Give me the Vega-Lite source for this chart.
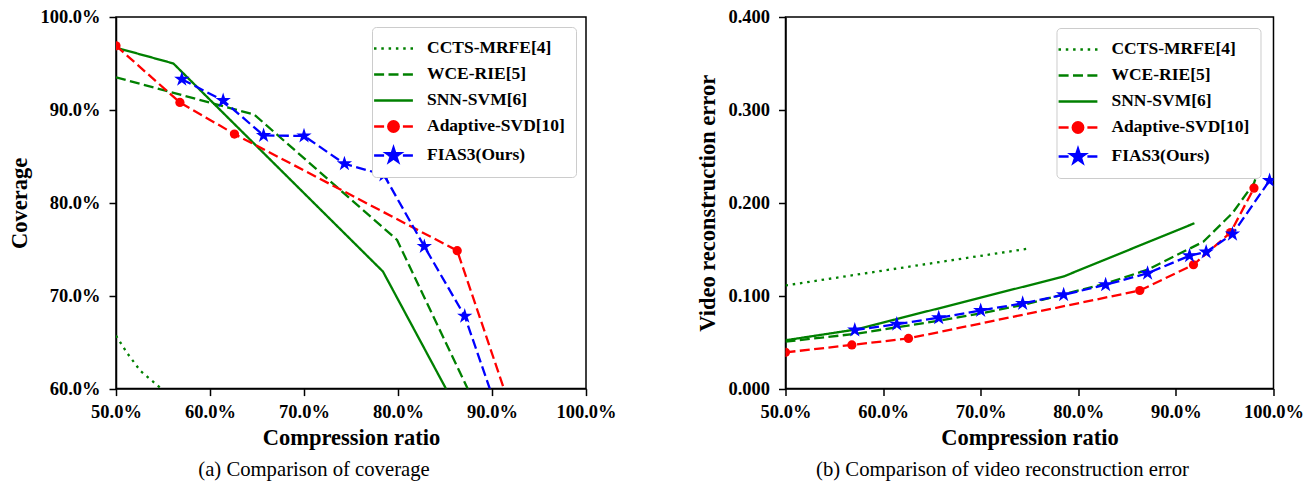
{
  "$schema": "https://vega.github.io/schema/vega-lite/v6.json",
  "padding": {"left": 8, "top": 7, "right": 0, "bottom": 0},
  "background": "white",
  "datasets": {
    "cov": [
      {"m": "CCTS-MRFE[4]", "x": 50, "y": 65.7},
      {"m": "CCTS-MRFE[4]", "x": 51.2, "y": 63.8},
      {"m": "CCTS-MRFE[4]", "x": 52.6, "y": 61.9},
      {"m": "CCTS-MRFE[4]", "x": 54.7, "y": 60.1},
      {"m": "CCTS-MRFE[4]", "x": 57, "y": 58.5},
      {"m": "WCE-RIE[5]", "x": 50, "y": 93.5},
      {"m": "WCE-RIE[5]", "x": 64.7, "y": 89.5},
      {"m": "WCE-RIE[5]", "x": 79.9, "y": 76.0},
      {"m": "WCE-RIE[5]", "x": 92.8, "y": 48.5},
      {"m": "SNN-SVM[6]", "x": 50, "y": 96.7},
      {"m": "SNN-SVM[6]", "x": 56.1, "y": 95.0},
      {"m": "SNN-SVM[6]", "x": 78.4, "y": 72.6},
      {"m": "SNN-SVM[6]", "x": 91.9, "y": 47.2},
      {"m": "Adaptive-SVD[10]", "x": 50, "y": 96.9},
      {"m": "Adaptive-SVD[10]", "x": 56.8, "y": 90.8},
      {"m": "Adaptive-SVD[10]", "x": 62.6, "y": 87.4},
      {"m": "Adaptive-SVD[10]", "x": 86.3, "y": 74.85},
      {"m": "Adaptive-SVD[10]", "x": 91.8, "y": 58.4},
      {"m": "FIAS3(Ours)", "x": 57.0, "y": 93.3},
      {"m": "FIAS3(Ours)", "x": 61.4, "y": 91.0},
      {"m": "FIAS3(Ours)", "x": 65.7, "y": 87.25},
      {"m": "FIAS3(Ours)", "x": 70.0, "y": 87.2},
      {"m": "FIAS3(Ours)", "x": 74.3, "y": 84.2},
      {"m": "FIAS3(Ours)", "x": 78.5, "y": 83.0},
      {"m": "FIAS3(Ours)", "x": 82.8, "y": 75.3},
      {"m": "FIAS3(Ours)", "x": 87.1, "y": 67.8},
      {"m": "FIAS3(Ours)", "x": 91.4, "y": 55.2}
    ],
    "err": [
      {"m": "CCTS-MRFE[4]", "x": 50, "y": 0.111},
      {"m": "CCTS-MRFE[4]", "x": 62.5, "y": 0.131},
      {"m": "CCTS-MRFE[4]", "x": 75.1, "y": 0.151},
      {"m": "WCE-RIE[5]", "x": 50, "y": 0.0505},
      {"m": "WCE-RIE[5]", "x": 57.2, "y": 0.059},
      {"m": "WCE-RIE[5]", "x": 61.4, "y": 0.066},
      {"m": "WCE-RIE[5]", "x": 65.7, "y": 0.073},
      {"m": "WCE-RIE[5]", "x": 70.0, "y": 0.081},
      {"m": "WCE-RIE[5]", "x": 74.3, "y": 0.090},
      {"m": "WCE-RIE[5]", "x": 78.5, "y": 0.1015},
      {"m": "WCE-RIE[5]", "x": 82.8, "y": 0.113},
      {"m": "WCE-RIE[5]", "x": 87.1, "y": 0.128},
      {"m": "WCE-RIE[5]", "x": 92.8, "y": 0.158},
      {"m": "WCE-RIE[5]", "x": 95.8, "y": 0.189},
      {"m": "WCE-RIE[5]", "x": 98.0, "y": 0.221},
      {"m": "WCE-RIE[5]", "x": 98.7, "y": 0.243},
      {"m": "SNN-SVM[6]", "x": 50, "y": 0.052},
      {"m": "SNN-SVM[6]", "x": 57.2, "y": 0.0636},
      {"m": "SNN-SVM[6]", "x": 78.5, "y": 0.1207},
      {"m": "SNN-SVM[6]", "x": 91.9, "y": 0.178},
      {"m": "Adaptive-SVD[10]", "x": 50, "y": 0.039},
      {"m": "Adaptive-SVD[10]", "x": 56.8, "y": 0.047},
      {"m": "Adaptive-SVD[10]", "x": 62.6, "y": 0.054},
      {"m": "Adaptive-SVD[10]", "x": 86.3, "y": 0.1056},
      {"m": "Adaptive-SVD[10]", "x": 91.8, "y": 0.1333},
      {"m": "Adaptive-SVD[10]", "x": 95.6, "y": 0.168},
      {"m": "Adaptive-SVD[10]", "x": 98.0, "y": 0.2158},
      {"m": "FIAS3(Ours)", "x": 57.1, "y": 0.063},
      {"m": "FIAS3(Ours)", "x": 61.4, "y": 0.0694},
      {"m": "FIAS3(Ours)", "x": 65.7, "y": 0.0762},
      {"m": "FIAS3(Ours)", "x": 70.0, "y": 0.0841},
      {"m": "FIAS3(Ours)", "x": 74.3, "y": 0.0917},
      {"m": "FIAS3(Ours)", "x": 78.5, "y": 0.101},
      {"m": "FIAS3(Ours)", "x": 82.8, "y": 0.1117},
      {"m": "FIAS3(Ours)", "x": 87.1, "y": 0.1242},
      {"m": "FIAS3(Ours)", "x": 91.4, "y": 0.143},
      {"m": "FIAS3(Ours)", "x": 93.1, "y": 0.147},
      {"m": "FIAS3(Ours)", "x": 95.8, "y": 0.1663},
      {"m": "FIAS3(Ours)", "x": 99.6, "y": 0.224}
    ]
  },
  "hconcat": [
    {
      "width": 470,
      "height": 371.6,
      "data": {"name": "cov"},
      "title": {"text": "(a) Comparison of coverage", "orient": "bottom", "anchor": "middle", "frame": "group", "dx": -37, "offset": 11, "fontSize": 20.7, "fontWeight": "normal", "font": "Liberation Serif", "color": "black"},
      "layer": [
        {
          "mark": {"type": "line", "strokeWidth": 2.3, "clip": true},
          "encoding": {
            "x": {"field": "x", "type": "quantitative", "scale": {"domain": [50, 100], "nice": false, "zero": false}, "axis": {"title": "Compression ratio", "values": [50, 60, 70, 80, 90, 100], "format": ".1f", "labelExpr": "datum.label + '%'", "labelFlush": false, "labelOverlap": false}},
            "y": {"field": "y", "type": "quantitative", "scale": {"domain": [60, 100], "nice": false, "zero": false}, "axis": {"title": "Coverage", "values": [60, 70, 80, 90, 100], "format": ".1f", "labelExpr": "datum.label + '%'", "labelFlush": false, "labelOverlap": false}},
            "color": {"field": "m", "type": "nominal", "scale": {"domain": ["CCTS-MRFE[4]", "WCE-RIE[5]", "SNN-SVM[6]", "Adaptive-SVD[10]", "FIAS3(Ours)"], "range": ["#008000", "#008000", "#008000", "#ff0000", "#0000ff"]}, "legend": null},
            "strokeDash": {"field": "m", "type": "nominal", "scale": {"domain": ["CCTS-MRFE[4]", "WCE-RIE[5]", "SNN-SVM[6]", "Adaptive-SVD[10]", "FIAS3(Ours)"], "range": [[2.5, 4.8], [10, 4.4], [1, 0], [10, 4.4], [10, 4.4]]}, "legend": null}
          }
        },
        {
          "transform": [{"filter": "datum.m == 'Adaptive-SVD[10]'"}],
          "mark": {"type": "point", "shape": "circle", "filled": true, "color": "#ff0000", "size": 85, "opacity": 1, "clip": true},
          "encoding": {"x": {"field": "x", "type": "quantitative"}, "y": {"field": "y", "type": "quantitative"}}
        },
        {
          "transform": [{"filter": "datum.m == 'FIAS3(Ours)'"}],
          "mark": {"type": "point", "shape": "M0,-1L0.2245,-0.309L0.9511,-0.309L0.3633,0.118L0.5878,0.809L0,0.382L-0.5878,0.809L-0.3633,0.118L-0.9511,-0.309L-0.2245,-0.309Z", "filled": true, "color": "#0000ff", "size": 260, "opacity": 1, "clip": true},
          "encoding": {"x": {"field": "x", "type": "quantitative"}, "y": {"field": "y", "type": "quantitative"}}
        },
        {
          "mark": {"type": "point", "filled": true, "opacity": 0, "clip": true},
          "encoding": {
            "x": {"field": "x", "type": "quantitative"},
            "y": {"field": "y", "type": "quantitative"},
            "shape": {"field": "m", "type": "nominal", "scale": {"domain": ["CCTS-MRFE[4]", "WCE-RIE[5]", "SNN-SVM[6]", "Adaptive-SVD[10]", "FIAS3(Ours)"], "range": ["M-1.95,0h0.25M-1.22,0h0.25M-0.49,0h0.25M0.24,0h0.25M0.97,0h0.25M1.7,0h0.25", "M-1.94,0H-0.94M-0.5,0H0.5M0.94,0H1.94", "M-1.94,0H1.94", "M-1.94,0H-0.94M-0.5,0H0.5M0.94,0H1.94M0.53,0A0.53,0.53,0,1,1,-0.53,0A0.53,0.53,0,1,1,0.53,0Z", "M-1.94,0H-0.94M-0.5,0H0.5M0.94,0H1.94M0,-0.78L0.175,-0.241L0.742,-0.241L0.283,0.092L0.458,0.631L0,0.298L-0.458,0.631L-0.283,0.092L-0.742,-0.241L-0.175,-0.241Z"]}, "legend": {"title": null, "orient": "top-right", "offset": 10}},
            "fill": {"field": "m", "type": "nominal", "scale": {"domain": ["CCTS-MRFE[4]", "WCE-RIE[5]", "SNN-SVM[6]", "Adaptive-SVD[10]", "FIAS3(Ours)"], "range": ["#008000", "#008000", "#008000", "#ff0000", "#0000ff"]}, "legend": {"title": null, "orient": "top-right", "offset": 10}},
            "stroke": {"field": "m", "type": "nominal", "scale": {"domain": ["CCTS-MRFE[4]", "WCE-RIE[5]", "SNN-SVM[6]", "Adaptive-SVD[10]", "FIAS3(Ours)"], "range": ["#008000", "#008000", "#008000", "#ff0000", "#0000ff"]}, "legend": {"title": null, "orient": "top-right", "offset": 10}}
          }
        }
      ]
    },
    {
      "width": 488,
      "height": 371.6,
      "data": {"name": "err"},
      "title": {"text": "(b) Comparison of video reconstruction error", "orient": "bottom", "anchor": "middle", "frame": "group", "dx": -27, "offset": 11, "fontSize": 20.7, "fontWeight": "normal", "font": "Liberation Serif", "color": "black"},
      "layer": [
        {
          "mark": {"type": "line", "strokeWidth": 2.3, "clip": true},
          "encoding": {
            "x": {"field": "x", "type": "quantitative", "scale": {"domain": [50, 100], "nice": false, "zero": false}, "axis": {"title": "Compression ratio", "values": [50, 60, 70, 80, 90, 100], "format": ".1f", "labelExpr": "datum.label + '%'", "labelFlush": false, "labelOverlap": false}},
            "y": {"field": "y", "type": "quantitative", "scale": {"domain": [0, 0.4], "nice": false}, "axis": {"title": "Video reconstruction error", "values": [0, 0.1, 0.2, 0.3, 0.4], "format": ".3f", "labelFlush": false, "labelOverlap": false}},
            "color": {"field": "m", "type": "nominal", "scale": {"domain": ["CCTS-MRFE[4]", "WCE-RIE[5]", "SNN-SVM[6]", "Adaptive-SVD[10]", "FIAS3(Ours)"], "range": ["#008000", "#008000", "#008000", "#ff0000", "#0000ff"]}, "legend": {"title": null, "orient": "top-left"}},
            "strokeDash": {"field": "m", "type": "nominal", "scale": {"domain": ["CCTS-MRFE[4]", "WCE-RIE[5]", "SNN-SVM[6]", "Adaptive-SVD[10]", "FIAS3(Ours)"], "range": [[2.5, 4.8], [10, 4.4], [1, 0], [10, 4.4], [10, 4.4]]}, "legend": null}
          }
        },
        {
          "transform": [{"filter": "datum.m == 'Adaptive-SVD[10]'"}],
          "mark": {"type": "point", "shape": "circle", "filled": true, "color": "#ff0000", "size": 85, "opacity": 1, "clip": true},
          "encoding": {"x": {"field": "x", "type": "quantitative"}, "y": {"field": "y", "type": "quantitative"}}
        },
        {
          "transform": [{"filter": "datum.m == 'FIAS3(Ours)'"}],
          "mark": {"type": "point", "shape": "M0,-1L0.2245,-0.309L0.9511,-0.309L0.3633,0.118L0.5878,0.809L0,0.382L-0.5878,0.809L-0.3633,0.118L-0.9511,-0.309L-0.2245,-0.309Z", "filled": true, "color": "#0000ff", "size": 260, "opacity": 1, "clip": true},
          "encoding": {"x": {"field": "x", "type": "quantitative"}, "y": {"field": "y", "type": "quantitative"}}
        },
        {
          "mark": {"type": "point", "filled": true, "opacity": 0, "clip": true},
          "encoding": {
            "x": {"field": "x", "type": "quantitative"},
            "y": {"field": "y", "type": "quantitative"},
            "shape": {"field": "m", "type": "nominal", "scale": {"domain": ["CCTS-MRFE[4]", "WCE-RIE[5]", "SNN-SVM[6]", "Adaptive-SVD[10]", "FIAS3(Ours)"], "range": ["M-1.95,0h0.25M-1.22,0h0.25M-0.49,0h0.25M0.24,0h0.25M0.97,0h0.25M1.7,0h0.25", "M-1.94,0H-0.94M-0.5,0H0.5M0.94,0H1.94", "M-1.94,0H1.94", "M-1.94,0H-0.94M-0.5,0H0.5M0.94,0H1.94M0.53,0A0.53,0.53,0,1,1,-0.53,0A0.53,0.53,0,1,1,0.53,0Z", "M-1.94,0H-0.94M-0.5,0H0.5M0.94,0H1.94M0,-0.78L0.175,-0.241L0.742,-0.241L0.283,0.092L0.458,0.631L0,0.298L-0.458,0.631L-0.283,0.092L-0.742,-0.241L-0.175,-0.241Z"]}, "legend": {"title": null, "orient": "none", "legendX": 271, "legendY": 11}},
            "fill": {"field": "m", "type": "nominal", "scale": {"domain": ["CCTS-MRFE[4]", "WCE-RIE[5]", "SNN-SVM[6]", "Adaptive-SVD[10]", "FIAS3(Ours)"], "range": ["#008000", "#008000", "#008000", "#ff0000", "#0000ff"]}, "legend": {"title": null, "orient": "none", "legendX": 271, "legendY": 11}},
            "stroke": {"field": "m", "type": "nominal", "scale": {"domain": ["CCTS-MRFE[4]", "WCE-RIE[5]", "SNN-SVM[6]", "Adaptive-SVD[10]", "FIAS3(Ours)"], "range": ["#008000", "#008000", "#008000", "#ff0000", "#0000ff"]}, "legend": {"title": null, "orient": "none", "legendX": 271, "legendY": 11}}
          }
        }
      ]
    }
  ],
  "spacing": 199.5,
  "bounds": "flush",
  "config": {
    "font": "Liberation Serif",
    "view": {"stroke": "black", "strokeWidth": 1.5},
    "axis": {"grid": false, "domainColor": "black", "domainWidth": 1.5, "tickColor": "black", "tickWidth": 1.5, "tickSize": 7, "labelFont": "Liberation Serif", "labelFontSize": 18.5, "labelFontWeight": "bold", "labelColor": "black", "titleFont": "Liberation Serif", "titleFontSize": 22.5, "titleFontWeight": "bold", "titleColor": "black"},
    "axisX": {"labelPadding": 7, "titlePadding": 5},
    "axisY": {"labelPadding": 9, "titlePadding": 8},
    "legend": {"labelFont": "Liberation Serif", "labelFontSize": 17.5, "labelFontWeight": "bold", "labelColor": "black", "fillColor": "white", "strokeColor": "#cccccc", "cornerRadius": 4, "padding": 10, "rowPadding": 6, "symbolSize": 400, "symbolStrokeWidth": 2.3, "symbolOpacity": 1, "labelOffset": 22}
  }
}
